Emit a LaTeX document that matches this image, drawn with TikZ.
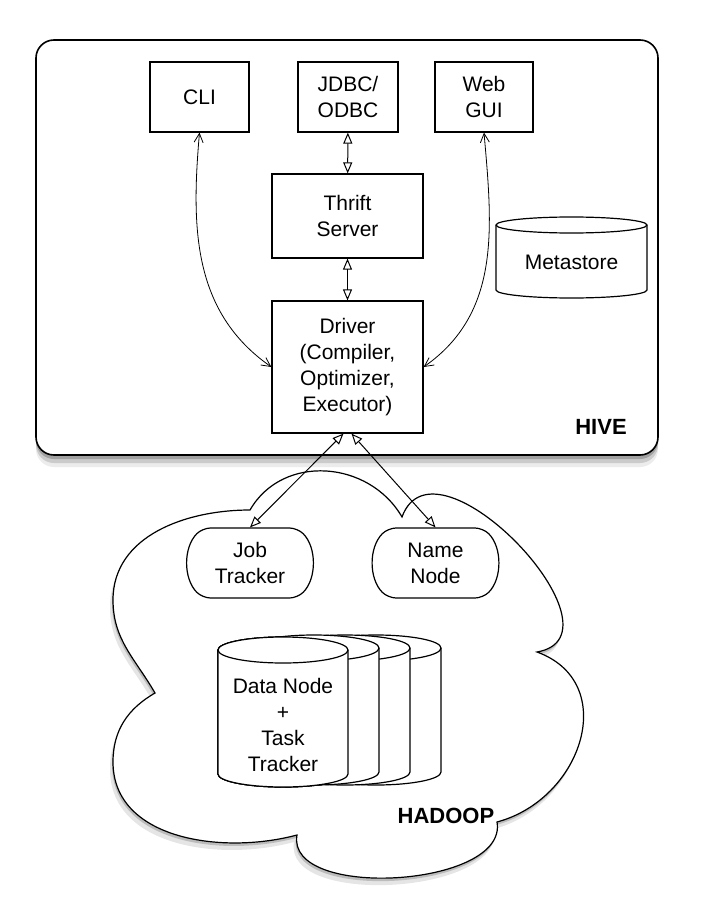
\documentclass[tikz,border=0pt]{standalone}
\usepackage{fontspec}
\setmainfont{Liberation Sans}
\usetikzlibrary{arrows.meta, shapes.misc, shadows}

% x, y, half width, half height, ellipse radius
\newcommand{\drum}[5]{%
  \draw [line width = 1.2pt, fill = white] (#1 - #3, #2 - #4 + #5) -- (#1 - #3, #2 + #4 - #5)
    arc [start angle = 180, end angle = 360, x radius = #3pt, y radius = #5pt] -- (#1 + #3, #2 - #4 + #5)
    arc [start angle = 0, end angle = 180, x radius = #3pt, y radius = #5pt] -- cycle;
  \draw [line width = 1.2pt] (#1 - #3, #2 - #4 + #5) arc [start angle = 180, end angle = 360, x radius = #3pt, y radius = #5pt];}

\begin{document}
\begin{tikzpicture}[x = 1pt, y = -1pt, font = \fontsize{21}{26}\selectfont,
  box/.style = {draw, line width = 1.2pt, align = center, inner sep = 0pt, fill = white},
  tracker/.style = {draw, line width = 1.2pt, rounded rectangle, rounded rectangle arc length = 90, rounded corners = 8pt, align = center, minimum width = 124pt, minimum height = 70pt, inner sep = 0pt, fill = white},
  link/.style = {line width = 1pt, {Triangle[open, length = 11pt, width = 9pt]}-{Triangle[open, length = 11pt, width = 9pt]}},
  curvelink/.style = {line width = 0.8pt, {Straight Barb[length = 9pt, width = 9pt]}-{Straight Barb[length = 9pt, width = 9pt]}},
  title/.style = {font = \fontsize{22}{26}\selectfont\bfseries}]
\fill [white] (0,0) rectangle (708,904);
\useasboundingbox (0,0) rectangle (708,904);

\draw [line width = 1.6pt, rounded corners = 18pt, fill = white,
  drop shadow = {shadow xshift = 0pt, shadow yshift = -12pt, opacity = 0.15},
  drop shadow = {shadow xshift = 0pt, shadow yshift = -8pt, opacity = 0.3},
  drop shadow = {shadow xshift = 0pt, shadow yshift = -4pt, opacity = 0.55}] (36,40) rectangle (658,455);
\node [title] (hive) at (601,427) {HIVE};

\node [box, minimum width = 99pt, minimum height = 70pt] (cli) at (199.5,97) {CLI};
\node [box, minimum width = 100pt, minimum height = 70pt] (jdbc) at (348,97) {JDBC/\\ODBC};
\node [box, minimum width = 98pt, minimum height = 70pt] (web) at (484,97) {Web\\GUI};
\node [box, minimum width = 151pt, minimum height = 84pt] (thrift) at (347.5,216) {Thrift\\Server};
\node [box, minimum width = 151pt, minimum height = 132pt] (driver) at (347.5,367) {Driver\\(Compiler,\\Optimizer,\\Executor)};
\drum{571.5}{257.5}{75.5}{40.5}{8}
\node (meta) at (571.5,262) {Metastore};

\draw [link] (jdbc) -- (thrift);
\draw [link] (thrift) -- (driver);
\draw [curvelink] (cli.south) to [out = -95, in = 145] (driver.west);
\draw [curvelink] (web.south) to [out = -85, in = 35] (driver.east);

\draw [line width = 1.2pt, fill = white,
  drop shadow = {shadow xshift = -3pt, shadow yshift = -7pt, opacity = 0.2},
  drop shadow = {shadow xshift = -1pt, shadow yshift = -3pt, opacity = 0.4}]
  (250,510) to [out = 60, in = 120, looseness = 1.1] (402,517)
  to [out = 70, in = 10, looseness = 1.3] (537,652)
  to [out = -20, in = 15, looseness = 1.3] (497,822)
  to [out = -80, in = -100, looseness = 0.85] (297,835)
  to [out = -165, in = -90] (113,762)
  to [out = 90, in = -150] (155,693)
  to [out = 120, in = -90] (113,600)
  to [out = 90, in = 180] (250,510) -- cycle;
\node [title] (hadoop) at (446,816) {HADOOP};

\node [tracker] (job) at (250,563) {Job\\Tracker};
\node [tracker] (name) at (435.5,563) {Name\\Node};

\foreach \k in {3,2,1}
  \drum{283 + 31*\k}{710}{65}{75}{13}
\drum{283}{712}{65}{75}{13}
\node [align = center] (data) at (283,725) {Data Node\\+\\Task\\Tracker};

\draw [link] ([xshift = -4pt]driver.south) -- (job.north);
\draw [link] ([xshift = 4pt]driver.south) -- (name.north);
\end{tikzpicture}
\end{document}
